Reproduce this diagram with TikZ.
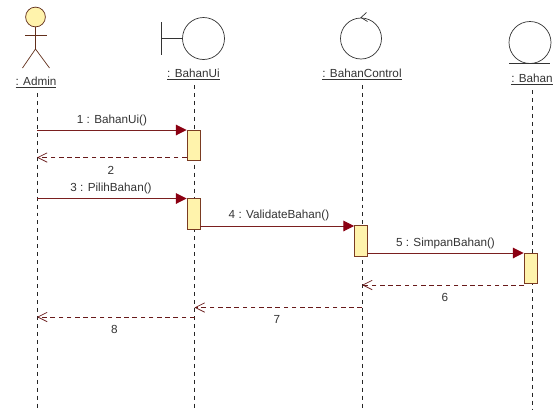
\documentclass[tikz,border=0pt]{standalone}
\usepackage{fontspec}
\setmainfont{Liberation Sans}
\usetikzlibrary{arrows.meta}

\definecolor{msgred}{HTML}{7A1F1F}
\definecolor{tipred}{HTML}{8B0012}
\definecolor{boxfill}{HTML}{FFF3AC}
\definecolor{boxline}{HTML}{7A3B22}
\definecolor{textgrey}{HTML}{333333}

\tikzset{
    lifeline/.style={thick, black!85, dash pattern=on 3.4pt off 3.4pt},
    activation/.style={draw=boxline, thick, fill=boxfill, minimum width=0.39cm, minimum height=0.91cm, inner sep=0},
    call/.style={thick, msgred, -{Triangle[length=9pt, width=9pt, color=tipred]}},
    reply/.style={thick, msgred!85!black, dash pattern=on 4pt off 3pt, -{Straight Barb[length=8pt, width=8pt, line width=0.6pt]}},
    symbol/.style={semithick, black!80},
    objname/.style={font=\fontsize{10pt}{12pt}\selectfont, text=textgrey, inner sep=0},
    msgtext/.style={font=\fontsize{10pt}{12pt}\selectfont, text=textgrey, inner sep=0}
}

\begin{document}
\begin{tikzpicture}[x=0.03cm, y=-0.03cm]
    \useasboundingbox (0, 0) rectangle (558, 412);

    % actor
    \draw[symbol, draw=boxline!80!black, fill=boxfill] (35.5, 17) circle (9.9);
    \draw[symbol, draw=boxline!80!black] (35.5, 27) -- (35.5, 49);
    \draw[symbol, draw=boxline!80!black] (25, 35) -- (46.5, 35);
    \draw[symbol, draw=boxline!80!black] (22.5, 68) -- (35.5, 49) -- (49.5, 68);

    % boundary
    \draw[symbol] (203.5, 38.5) circle (21);
    \draw[symbol] (161.5, 22) -- (161.5, 55);
    \draw[symbol] (161.5, 38) -- (182.5, 38);

    % control
    \draw[symbol] (361, 38.5) circle (20.5);
    \draw[symbol] (366.5, 12.5) -- (361, 17.5) -- (367.5, 21.5);

    % entity
    \draw[symbol] (530, 42.5) circle (21);
    \draw[symbol] (509, 63.5) -- (550, 63.5);

    % names
    \node[objname] (admin) at (36, 82) {\underline{: Admin}};
    \node[objname] (bahanUi) at (193.5, 74.5) {\underline{: BahanUi}};
    \node[objname] (bahanControl) at (362, 74.5) {\underline{: BahanControl}};
    \node[objname] (bahan) at (532, 79.5) {\underline{: Bahan}};

    % lifelines
    \coordinate (adminEnd) at (37, 410);
    \coordinate (bahanUiEnd) at (194.5, 410);
    \coordinate (bahanControlEnd) at (362, 410);
    \coordinate (bahanEnd) at (532, 410);

    \draw[lifeline] (37, 93) -- (adminEnd);
    \draw[lifeline] (194.5, 85) -- (bahanUiEnd);
    \draw[lifeline] (362, 85) -- (bahanControlEnd);
    \draw[lifeline] (532, 90) -- (bahanEnd);

    % activations
    \node[activation] (uiOne) at (193.5, 145.5) {};
    \node[activation] (uiTwo) at (193.5, 214) {};
    \node[activation] (controlOne) at (361, 241) {};
    \node[activation] (bahanOne) at (530.5, 268.5) {};

    % messages
    \coordinate (a1) at (37, 130);
    \coordinate (a2) at (37, 157.5);
    \coordinate (a3) at (37, 198.5);
    \coordinate (b4) at (200, 226);
    \coordinate (c5) at (368, 253);
    \coordinate (d6) at (524, 285);
    \coordinate (c6) at (362, 285);
    \coordinate (c7) at (362, 307.5);
    \coordinate (b7) at (194.5, 307.5);
    \coordinate (b8) at (194.5, 317);
    \coordinate (a8) at (37, 317);

    \draw[call] (a1) -- (a1 -| uiOne.west);
    \draw[reply] (a2 -| uiOne.west) -- (a2);
    \draw[call] (a3) -- (a3 -| uiTwo.west);
    \draw[call] (b4) -- (b4 -| controlOne.west);
    \draw[call] (c5) -- (c5 -| bahanOne.west);
    \draw[reply] (d6) -- (c6);
    \draw[reply] (c7) -- (b7);
    \draw[reply] (b8) -- (a8);

    % message labels
    \node[msgtext] (m1) at (112, 120) {1 : BahanUi()};
    \node[msgtext] (m2) at (111, 170.5) {2};
    \node[msgtext] (m3) at (111, 188) {3 : PilihBahan()};
    \node[msgtext] (m4) at (279, 215) {4 : ValidateBahan()};
    \node[msgtext] (m5) at (445.5, 243) {5 : SimpanBahan()};
    \node[msgtext] (m6) at (445, 297) {6};
    \node[msgtext] (m7) at (277, 319.5) {7};
    \node[msgtext] (m8) at (114.5, 329) {8};
\end{tikzpicture}
\end{document}
